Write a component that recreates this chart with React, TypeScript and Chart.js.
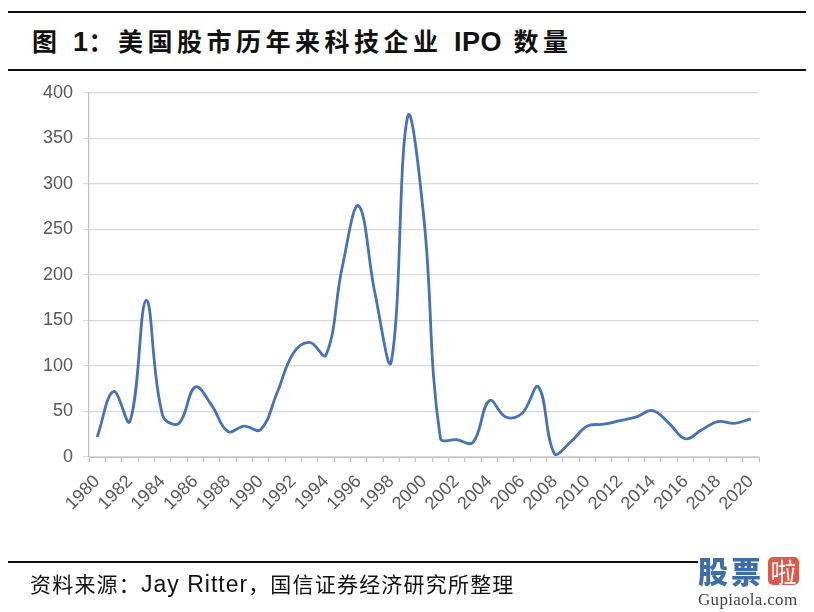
import React, { useEffect, useRef } from "react";
import { Chart, registerables } from "chart.js";

Chart.register(...registerables);

const years: string[] = [
  "1980", "1981", "1982", "1983", "1984", "1985", "1986", "1987", "1988", "1989",
  "1990", "1991", "1992", "1993", "1994", "1995", "1996", "1997", "1998", "1999",
  "2000", "2001", "2002", "2003", "2004", "2005", "2006", "2007", "2008", "2009",
  "2010", "2011", "2012", "2013", "2014", "2015", "2016", "2017", "2018", "2019",
  "2020",
];

const techIpoCounts: number[] = [
  22, 72, 39, 172, 46, 37, 77, 57, 28, 34,
  30, 70, 114, 126, 112, 209, 276, 180, 105, 374,
  261, 21, 19, 16, 62, 44, 48, 77, 3, 17,
  34, 36, 40, 44, 51, 37, 20, 30, 39, 37,
  42,
];

const yMin = 0;
const yMax = 400;
const yStep = 50;

const titleParts: { text: string; latin: boolean }[] = [
  { text: "图 ", latin: false },
  { text: "1", latin: true },
  { text: "：美国股市历年来科技企业 ", latin: false },
  { text: "IPO", latin: true },
  { text: " 数量", latin: false },
];
const sourceParts: { text: string; latin: boolean }[] = [
  { text: "资料来源：", latin: false },
  { text: "Jay Ritter", latin: true },
  { text: "，国信证券经济研究所整理", latin: false },
];

export default function App() {
  const canvasRef = useRef<HTMLCanvasElement | null>(null);

  useEffect(() => {
    if (!canvasRef.current) return;
    const chart = new Chart(canvasRef.current, {
      type: "line",
      data: {
        labels: years,
        datasets: [
          {
            data: techIpoCounts,
            borderColor: "#4672b8",
            borderWidth: 2.8,
            pointRadius: 0,
            tension: 0.4,
            fill: false,
          },
        ],
      },
      options: {
        animation: false,
        responsive: false,
        layout: { padding: { top: 93, right: 55, bottom: 0, left: 0 } },
        plugins: { legend: { display: false }, tooltip: { enabled: false } },
        scales: {
          x: {
            offset: true,
            grid: {
              offset: true,
              drawOnChartArea: false,
              drawTicks: true,
              tickLength: 5,
              color: "#bfbfbf",
            },
            border: { display: true, color: "#bfbfbf", width: 1 },
            ticks: {
              autoSkip: false,
              maxRotation: 45,
              minRotation: 45,
              padding: 9,
              color: "#595959",
              font: { family: "'Liberation Sans', Arial, sans-serif", size: 18 },
              callback: (_v: any, i: number) => (i % 2 === 0 ? years[i] : ""),
            },
            afterFit: (scale: any) => {
              scale.height = 155;
            },
          },
          y: {
            min: yMin,
            max: yMax,
            grid: { color: "#d9d9d9", lineWidth: 1.2, tickLength: 6 },
            border: { display: true, color: "#bfbfbf", width: 1.2 },
            ticks: {
              stepSize: yStep,
              padding: 10,
              color: "#595959",
              font: { family: "'Liberation Sans', Arial, sans-serif", size: 18 },
            },
            afterFit: (scale: any) => {
              scale.width = 89;
            },
          },
        },
      },
    });
    return () => chart.destroy();
  }, []);

  const rule = (top: number, left: number, width: number) => (
    <div
      style={{
        position: "absolute",
        top,
        left,
        width,
        height: 2,
        background: "#111",
      }}
    />
  );

  return (
    <div
      style={{
        position: "absolute",
        left: 0,
        top: 0,
        width: 814,
        height: 612,
        background: "#fff",
        overflow: "hidden",
      }}
    >
      {rule(11, 8, 798)}
      <div
        style={{
          position: "absolute",
          left: 32,
          top: 27,
          fontFamily: "'Liberation Sans', 'Noto Sans CJK SC', sans-serif",
          fontWeight: 700,
          fontSize: 25,
          lineHeight: "30px",
          color: "#111",
          whiteSpace: "pre",
        }}
      >
        {titleParts.map((p, i) => (
          <span
            key={i}
            style={{
              letterSpacing: p.latin ? 0.5 : 4.5,
              fontSize: p.latin ? 27 : 25,
            }}
          >
            {p.text}
          </span>
        ))}
      </div>
      {rule(69, 8, 798)}
      <canvas
        ref={canvasRef}
        width={814}
        height={612}
        style={{ position: "absolute", left: 0, top: 0, width: 814, height: 612 }}
      />
      {rule(561, 8, 690)}
      <div
        style={{
          position: "absolute",
          left: 30,
          top: 570,
          fontFamily: "'Liberation Sans', 'Noto Sans CJK SC', sans-serif",
          lineHeight: "28px",
          color: "#111",
          whiteSpace: "pre",
        }}
      >
        {sourceParts.map((p, i) => (
          <span
            key={i}
            style={{
              fontSize: p.latin ? 23 : 21,
              letterSpacing: p.latin ? 1 : 1.2,
            }}
          >
            {p.text}
          </span>
        ))}
      </div>
      <div
        style={{
          position: "absolute",
          left: 698,
          top: 553,
          fontFamily: "'Noto Sans CJK SC', sans-serif",
          fontWeight: 900,
          fontSize: 30,
          lineHeight: "34px",
          letterSpacing: 3,
          color: "#3d6ea8",
          whiteSpace: "nowrap",
        }}
      >
        股票
      </div>
      <div
        style={{
          position: "absolute",
          left: 768,
          top: 557,
          width: 31,
          height: 28,
          borderRadius: 5,
          background: "#e0584a",
          color: "#fff",
          fontFamily: "'Noto Sans CJK SC', sans-serif",
          fontSize: 26,
          lineHeight: "28px",
          textAlign: "center",
        }}
      >
        啦
      </div>
      <div
        style={{
          position: "absolute",
          left: 698,
          top: 591,
          fontFamily: "'Liberation Serif', 'DejaVu Serif', serif",
          fontSize: 17,
          lineHeight: "18px",
          letterSpacing: 0.3,
          color: "#444",
          whiteSpace: "nowrap",
        }}
      >
        Gupiaola.com
      </div>
    </div>
  );
}
